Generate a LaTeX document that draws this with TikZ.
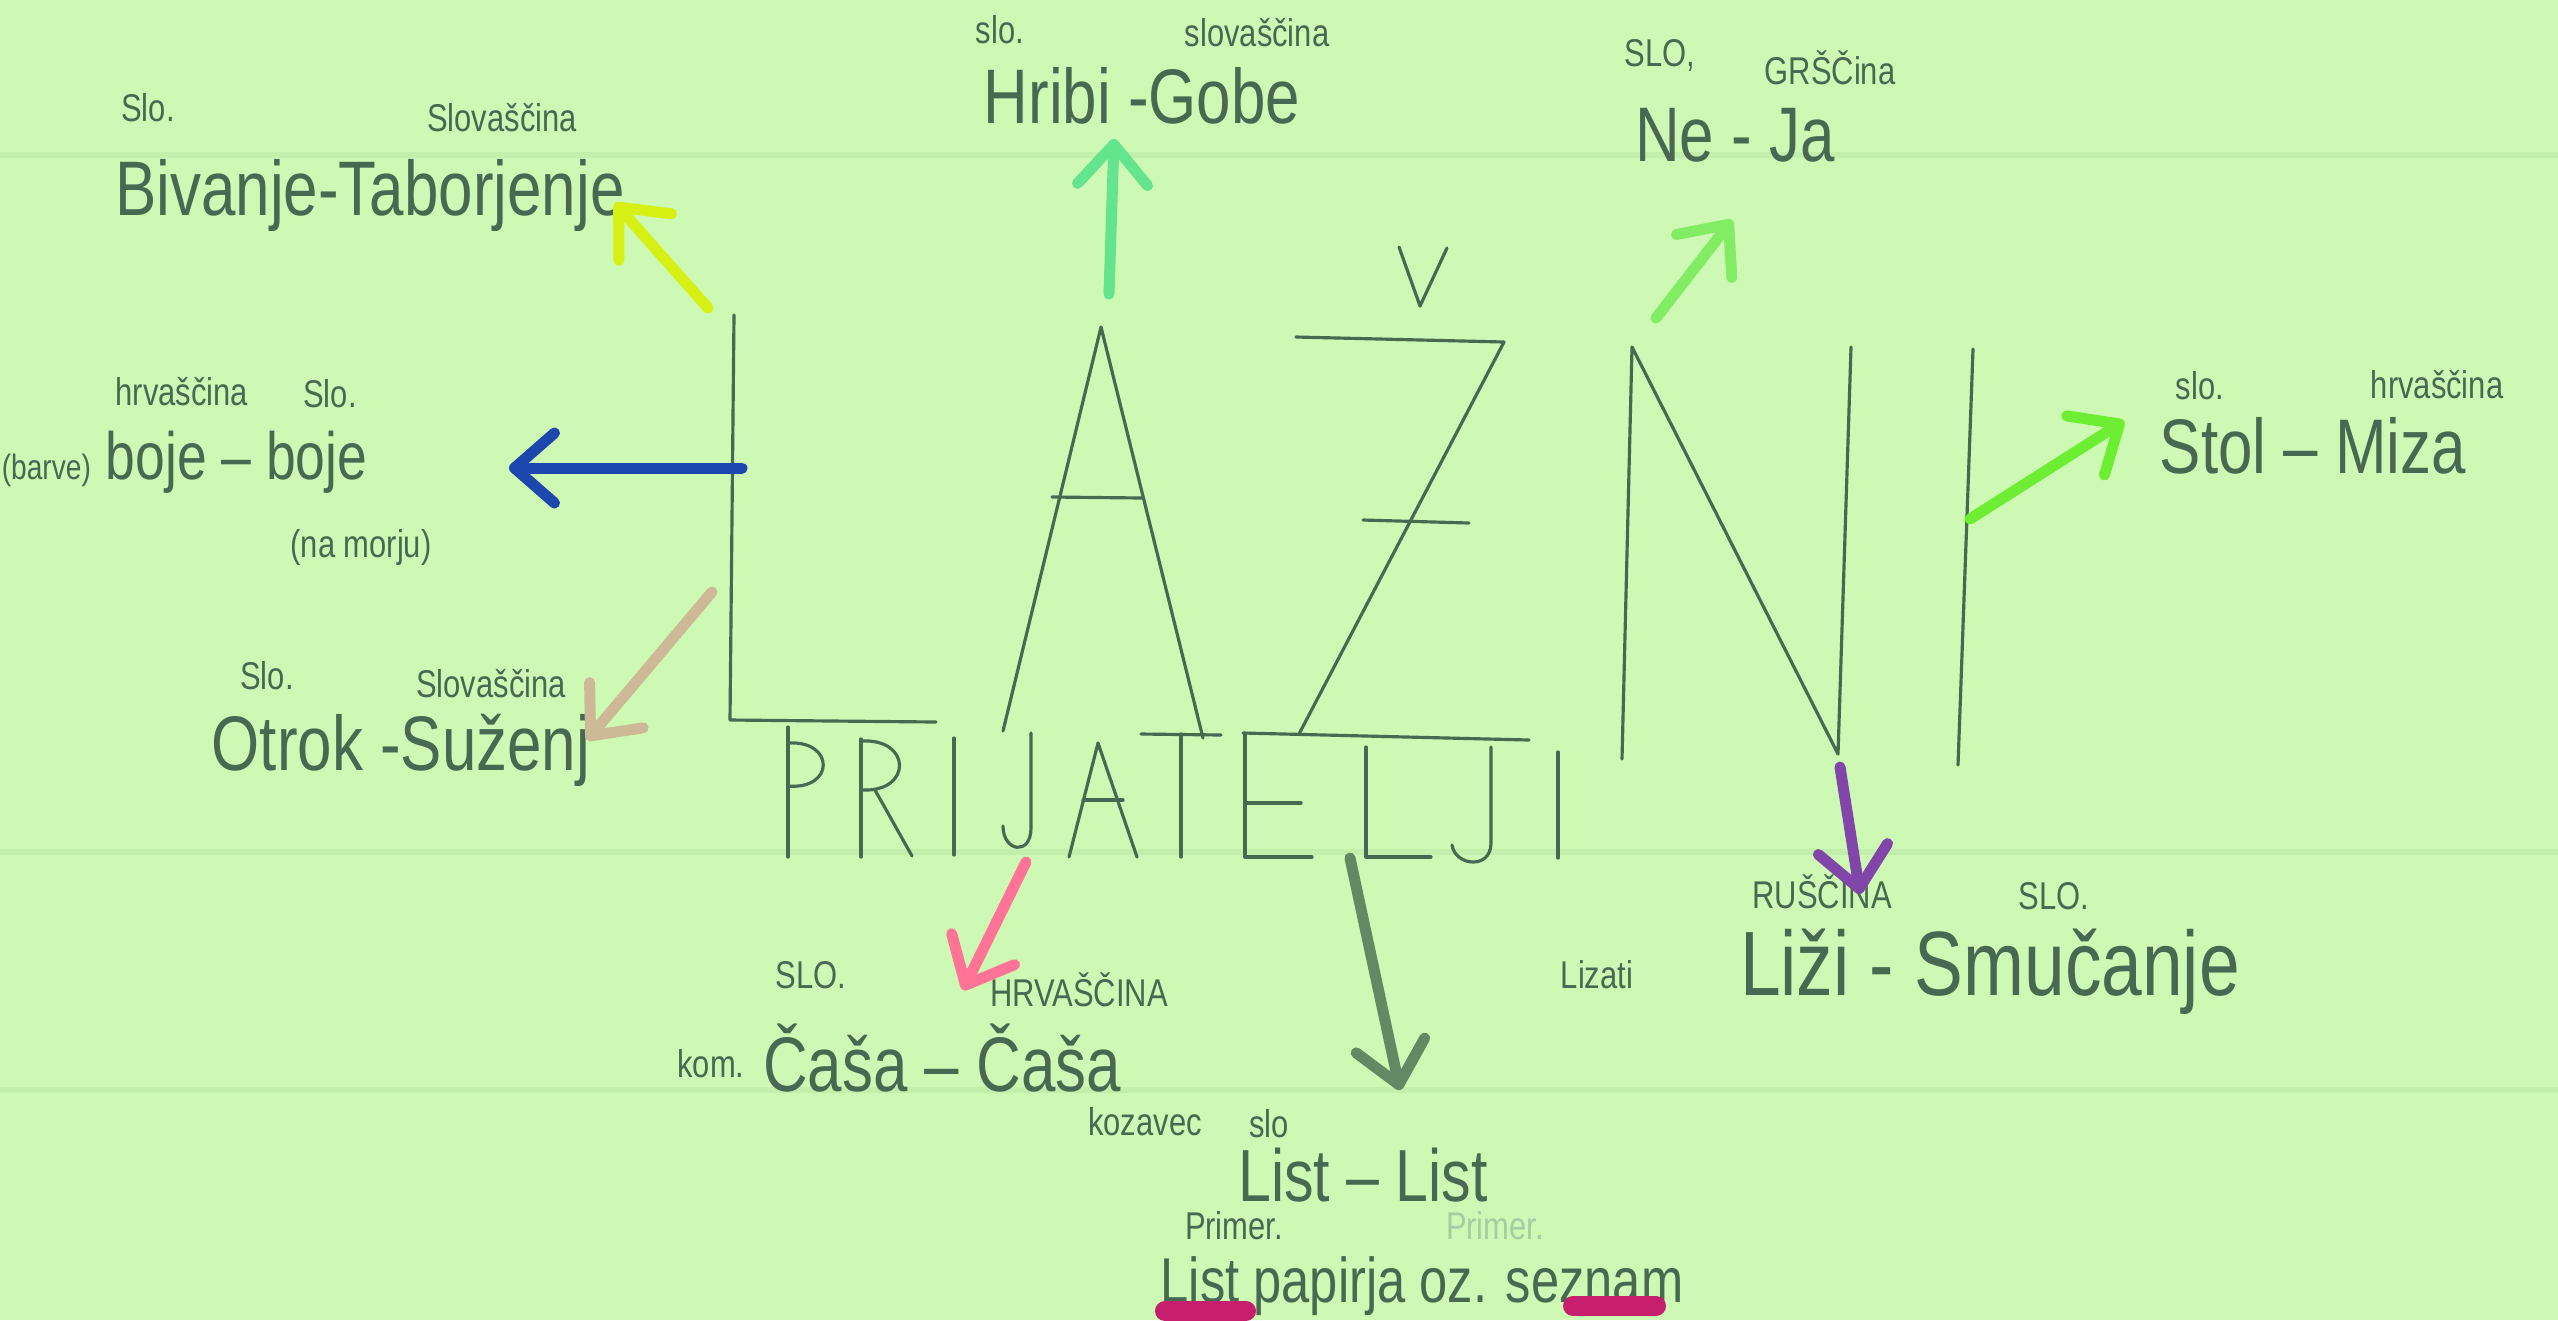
\documentclass[tikz,border=0pt]{standalone}
\usepackage{fontspec}
\setmainfont[FakeStretch=0.8]{Liberation Sans}
\usetikzlibrary{arrows.meta}

\definecolor{paper}{RGB}{205,249,180}
\definecolor{rule}{RGB}{194,239,172}
\definecolor{pencil}{RGB}{72,104,82}
\definecolor{faint}{RGB}{165,205,165}
\definecolor{yellowfelt}{RGB}{214,240,20}
\definecolor{mintfelt}{RGB}{100,228,140}
\definecolor{lightfelt}{RGB}{130,236,100}
\definecolor{greenfelt}{RGB}{110,238,50}
\definecolor{bluefelt}{RGB}{30,70,175}
\definecolor{tanfelt}{RGB}{205,185,150}
\definecolor{pinkfelt}{RGB}{255,115,150}
\definecolor{greyfelt}{RGB}{100,135,100}
\definecolor{purplefelt}{RGB}{130,70,170}
\definecolor{magentafelt}{RGB}{200,30,110}

\begin{document}
\begin{tikzpicture}[x=0.01cm,y=-0.01cm,
    felt/.style={line width=1.1mm, line cap=round, line join=round,
      -{Straight Barb[round,length=4mm,width=7mm]}},
    pen/.style={draw=pencil, line width=0.9pt, line cap=round, line join=round},
    word/.style={text=pencil, inner sep=0pt, font=\fontsize{22}{24}\selectfont},
    lang/.style={text=pencil, inner sep=0pt, font=\fontsize{11}{12}\selectfont}]

    \fill[paper] (0,0) rectangle (2558,1320);
    \useasboundingbox (0,0) rectangle (2558,1320);
    \draw[rule, line width=1.5pt] (0,155) -- (2558,155);
    \draw[rule, line width=1.5pt] (0,852) -- (2558,852);
    \draw[rule, line width=1.5pt] (0,1090) -- (2558,1090);

    % big letters
    \draw[pen] (734,315) -- (730,720) -- (936,722);
    \draw[pen] (1003,731) -- (1101,327) -- (1203,738);
    \draw[pen] (1052,497) -- (1142,498);
    \draw[pen] (1296,337) -- (1504,342) -- (1299,734);
    \draw[pen] (1243,733) -- (1529,740);
    \draw[pen] (1363,520) -- (1469,523);
    \draw[pen] (1399,247) -- (1420,306) -- (1447,248);
    \draw[pen] (1622,759) -- (1632,347) -- (1838,754) -- (1851,347);
    \draw[pen] (1973,349) -- (1958,765);

    % PRIJATELJI
    \draw[pen] (788,727) -- (788,857);
    \draw[pen] (788,743) .. controls (835,740) and (835,790) .. (788,786);
    \draw[pen] (861,739) -- (861,857);
    \draw[pen] (861,741) .. controls (912,738) and (912,792) .. (863,790);
    \draw[pen] (875,790) -- (912,856);
    \draw[pen] (954,738) -- (954,855);
    \draw[pen] (1031,733) -- (1031,828) .. controls (1031,856) and (1003,852) .. (1003,826);
    \draw[pen] (1069,857) -- (1098,743) -- (1137,857);
    \draw[pen] (1083,800) -- (1123,800);
    \draw[pen] (1141,734) -- (1221,735);
    \draw[pen] (1181,734) -- (1181,857);
    \draw[pen] (1245,734) -- (1245,857) -- (1312,857);
    \draw[pen] (1245,803) -- (1301,803);
    \draw[pen] (1366,747) -- (1366,857) -- (1431,857);
    \draw[pen] (1491,747) -- (1491,843) .. controls (1491,870) and (1455,866) .. (1452,845);
    \draw[pen] (1558,752) -- (1558,858);

    % words
    \node[lang] (bivSlo) at (148,108) {Slo.};
    \node[lang] (bivLang) at (502,118) {Slovaščina};
    \node[word] (biv) at (370,195) {Bivanje-Taborjenje};

    \node[lang] (hriSlo) at (1000,30) {slo.};
    \node[lang] (hriLang) at (1257,33) {slovaščina};
    \node[word] (hri) at (1142,96) {Hribi -Gobe};

    \node[lang] (neSlo) at (1660,55) {SLO,};
    \node[lang] (neLang) at (1830,68) {GRŠČina};
    \node[word] (ne) at (1735,135) {Ne - Ja};

    \node[lang] (bojLang) at (182,392) {hrvaščina};
    \node[lang] (bojSlo) at (330,394) {Slo.};
    \node[word, font=\fontsize{19}{21}\selectfont, anchor=east] (boj) at (368,462)
      {{\fontsize{10}{12}\selectfont(barve)} boje -- boje};
    \node[lang] (bojNote) at (361,547) {(na morju)};

    \node[lang] (stoSlo) at (2200,386) {slo.};
    \node[lang] (stoLang) at (2437,385) {hrvaščina};
    \node[word] (sto) at (2313,446) {Stol -- Miza};

    \node[lang] (otrSlo) at (267,676) {Slo.};
    \node[lang] (otrLang) at (491,684) {Slovaščina};
    \node[word] (otr) at (401,750) {Otrok -Suženj};

    \node[lang] (casSlo) at (811,975) {SLO.};
    \node[lang] (casLang) at (1079,990) {HRVAŠČINA};
    \node[lang] (casKom) at (711,1064) {kom.};
    \node[word] (cas) at (942,1058) {Čaša -- Čaša};
    \node[lang] (casNote) at (1145,1122) {kozavec};

    \node[lang] (lizRus) at (1822,892) {RUŠČINA};
    \node[lang] (lizSlo) at (2054,896) {SLO.};
    \node[lang] (lizNote) at (1597,975) {Lizati};
    \node[word, font=\fontsize{26}{28}\selectfont] (liz) at (1990,972) {Liži - Smučanje};

    \node[lang] (lisSlo) at (1269,1124) {slo};
    \node[word, font=\fontsize{21}{23}\selectfont] (lis) at (1363,1175) {List -- List};
    \node[lang] (lisPrim) at (1234,1226) {Primer.};
    \node[lang, text=faint] (lisPrimB) at (1495,1226) {Primer.};
    \node[word, font=\fontsize{18}{20}\selectfont] (lisEx) at (1422,1286) {List papirja oz. seznam};
    \draw[magentafelt, line width=2mm, line cap=round] (1165,1311) -- (1246,1311);
    \draw[magentafelt, line width=2mm, line cap=round] (1573,1306) -- (1656,1306);

    % arrows
    \coordinate (Ltop) at (708,308);    \coordinate (bivHead) at (615,203);
    \coordinate (Atop) at (1109,294);   \coordinate (hriHead) at (1114,139);
    \coordinate (Ntop) at (1656,318);   \coordinate (neHead) at (1732,220);
    \coordinate (Iside) at (1970,519);  \coordinate (stoHead) at (2124,421);
    \coordinate (Lmid) at (742,468);    \coordinate (bojHead) at (509,468);
    \coordinate (Llow) at (712,592);    \coordinate (otrHead) at (587,740);
    \coordinate (Jfoot) at (1026,862);  \coordinate (casHead) at (963,990);
    \coordinate (Tfoot) at (1350,858);  \coordinate (lisHead) at (1400,1090);
    \coordinate (Nfoot) at (1840,767);  \coordinate (lizHead) at (1860,894);

    \draw[felt, yellowfelt] (Ltop) -- (bivHead);
    \draw[felt, mintfelt] (Atop) -- (hriHead);
    \draw[felt, lightfelt] (Ntop) -- (neHead);
    \draw[felt, greenfelt] (Iside) -- (stoHead);
    \draw[felt, bluefelt] (Lmid) -- (bojHead);
    \draw[felt, tanfelt] (Llow) -- (otrHead);
    \draw[felt, pinkfelt] (Jfoot) -- (casHead);
    \draw[felt, greyfelt] (Tfoot) -- (lisHead);
    \draw[felt, purplefelt] (Nfoot) -- (lizHead);
\end{tikzpicture}
\end{document}
